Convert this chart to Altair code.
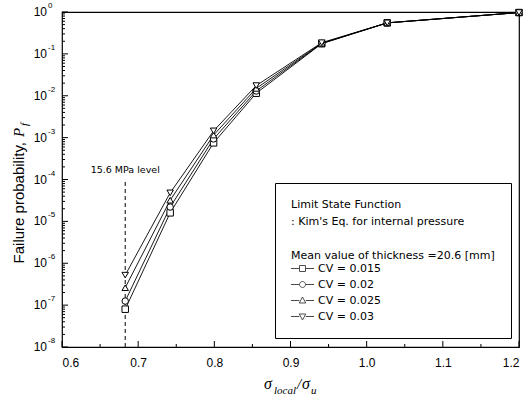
import altair as alt
import pandas as pd

# ---- data ----
x_ratio = [0.683, 0.742, 0.799, 0.855, 0.941, 1.027, 1.2]
cv_labels = ["CV = 0.015", "CV = 0.02", "CV = 0.025", "CV = 0.03"]
pf_cv015 = [8.0e-8, 1.6e-5, 7.5e-4, 1.15e-2, 0.175, 0.55, 0.97]
pf_cv020 = [1.25e-7, 2.2e-5, 9.3e-4, 1.3e-2, 0.178, 0.55, 0.97]
pf_cv025 = [2.6e-7, 3.2e-5, 1.15e-3, 1.5e-2, 0.18, 0.55, 0.97]
pf_cv030 = [5.2e-7, 4.8e-5, 1.45e-3, 1.75e-2, 0.185, 0.55, 0.97]

level_x = [0.683]
level_y_top = [9e-5]
level_label = ["15.6 MPa level"]

x_major = [0.6, 0.7, 0.8, 0.9, 1.0, 1.1, 1.2]
x_minor = [0.65, 0.75, 0.85, 0.95, 1.05, 1.15]
y_exp = [-8, -7, -6, -5, -4, -3, -2, -1, 0]
y_minor_mult = [2, 3, 4, 5, 6, 7, 8, 9]

legend_title = ["Limit State Function", ": Kim's Eq. for internal pressure", "\u2800",
                "Mean value of thickness =20.6 [mm]"]

W, H = 457, 335

rows = []
for lab, vals in zip(cv_labels, [pf_cv015, pf_cv020, pf_cv025, pf_cv030]):
    for xv, yv in zip(x_ratio, vals):
        rows.append({"x": xv, "pf": yv, "series": lab})
df = pd.DataFrame(rows)

xs = alt.Scale(domain=[0.6, 1.2], nice=False, zero=False)
ys = alt.Scale(type="log", domain=[1e-8, 1], nice=False)

xax = alt.Axis(values=x_major, format=".1f", ticks=False, domain=False, grid=False,
               labelFont="Liberation Sans", labelFontSize=12, labelColor="black",
               labelPadding=10, title=None)
yax = alt.Axis(labels=False, ticks=False, domain=False, grid=False, title=None)

base = alt.Chart(df)

lines = base.mark_line(color="black", strokeWidth=0.9).encode(
    x=alt.X("x:Q", scale=xs, axis=xax),
    y=alt.Y("pf:Q", scale=ys, axis=yax),
    detail="series:N",
)

points = base.mark_point(filled=True, fill="white", stroke="black", strokeWidth=1,
                         size=42, opacity=1).encode(
    x=alt.X("x:Q", scale=xs),
    y=alt.Y("pf:Q", scale=ys),
    shape=alt.Shape("series:N", sort=cv_labels,
                    scale=alt.Scale(domain=cv_labels,
                                    range=["square", "circle", "triangle-up", "triangle-down"]),
                    legend=None),
)

# legend symbols: short line - marker - short line
sym_paths = [
    "M-1.1,0L0.6,0M1.8,0L3.5,0M0.6,-0.6L1.8,-0.6L1.8,0.6L0.6,0.6Z",
    "M-1.1,0L0.6,0M1.8,0L3.5,0M1.8,0A0.6,0.6,0,1,1,0.6,0A0.6,0.6,0,1,1,1.8,0Z",
    "M-1.1,0L0.55,0M1.85,0L3.5,0M1.2,-0.7L1.85,0.5L0.55,0.5Z",
    "M-1.1,0L0.55,0M1.85,0L3.5,0M1.2,0.7L1.85,-0.5L0.55,-0.5Z",
]

legend_layer = base.mark_point(filled=False, color="black", clip=True).encode(
    x=alt.value(-200),
    y=alt.value(-200),
    shape=alt.Shape("series:N", sort=cv_labels,
                    scale=alt.Scale(domain=cv_labels, range=sym_paths),
                    legend=alt.Legend(
                        title=legend_title, orient="none", legendX=213, legendY=171,
                        fillColor="white", strokeColor="black", padding=16,
                        titleFont="DejaVu Sans", titleFontSize=11, titleFontWeight="normal",
                        titleColor="black", titleLineHeight=17, titlePadding=2,
                        titleLimit=400, labelLimit=300,
                        labelFont="DejaVu Sans", labelFontSize=11, labelColor="black",
                        labelOffset=16, symbolSize=100, symbolStrokeColor="black",
                        symbolFillColor="white", symbolStrokeWidth=1, rowPadding=4,
                    )),
)

# dashed level line and its label
lvl_df = pd.DataFrame({"x": level_x, "y0": [1e-8], "y1": level_y_top, "label": level_label})
level_rule = alt.Chart(lvl_df).mark_rule(color="black", strokeDash=[4, 3], strokeWidth=1).encode(
    x=alt.X("x:Q", scale=xs), y=alt.Y("y0:Q", scale=ys), y2="y1:Q")
level_text = alt.Chart(lvl_df).mark_text(font="DejaVu Sans", fontSize=9.5, color="black",
                                         align="center", baseline="bottom", dy=-6).encode(
    x=alt.X("x:Q", scale=xs), y=alt.Y("y1:Q", scale=ys), text="label:N")

# ticks (inward)
xmaj_df = pd.DataFrame({"t": x_major})
xmin_df = pd.DataFrame({"t": x_minor})
xmaj_rule = alt.Chart(xmaj_df).mark_rule(color="black", strokeWidth=1).encode(
    x=alt.X("t:Q", scale=xs), y=alt.value(H), y2=alt.value(H - 6))
xmin_rule = alt.Chart(xmin_df).mark_rule(color="black", strokeWidth=1).encode(
    x=alt.X("t:Q", scale=xs), y=alt.value(H), y2=alt.value(H - 3))

ymaj_vals = [10.0 ** e for e in y_exp]
ymin_vals = [m * 10.0 ** e for e in y_exp[:-1] for m in y_minor_mult]
ymaj_df = pd.DataFrame({"t": ymaj_vals,
                        "base": ["10"] * len(y_exp),
                        "exp": [str(e) for e in y_exp]})
ymin_df = pd.DataFrame({"t": ymin_vals})
ymaj_rule = alt.Chart(ymaj_df).mark_rule(color="black", strokeWidth=1).encode(
    y=alt.Y("t:Q", scale=ys), x=alt.value(0), x2=alt.value(6))
ymin_rule = alt.Chart(ymin_df).mark_rule(color="black", strokeWidth=1).encode(
    y=alt.Y("t:Q", scale=ys), x=alt.value(0), x2=alt.value(3))

ylab_base = alt.Chart(ymaj_df).mark_text(font="Liberation Sans", fontSize=12, color="black",
                                         align="right", baseline="middle").encode(
    y=alt.Y("t:Q", scale=ys), x=alt.value(-15), text="base:N")
ylab_exp = alt.Chart(ymaj_df).mark_text(font="Liberation Sans", fontSize=8, color="black",
                                        align="left", baseline="middle", dy=-6).encode(
    y=alt.Y("t:Q", scale=ys), x=alt.value(-14), text="exp:N")

one = alt.Data(values=[{}])

# y title
yt1 = alt.Chart(one).mark_text(text="Failure probability,", font="Liberation Sans", fontSize=15,
                               angle=270, align="right", baseline="alphabetic",
                               color="black").encode(x=alt.value(-38), y=alt.value(130))
yt2 = alt.Chart(one).mark_text(text="P", font="Liberation Serif", fontSize=15, fontStyle="italic",
                               angle=270, align="left", baseline="alphabetic",
                               color="black").encode(x=alt.value(-38), y=alt.value(125))
yt3 = alt.Chart(one).mark_text(text="f", font="Liberation Serif", fontSize=11, fontStyle="italic",
                               angle=270, align="left", baseline="alphabetic",
                               color="black").encode(x=alt.value(-34), y=alt.value(114))

# x title
xt1 = alt.Chart(one).mark_text(text="σ", font="Liberation Serif", fontSize=16, fontStyle="italic",
                               align="left", baseline="alphabetic", color="black").encode(
    x=alt.value(202), y=alt.value(377))
xt2 = alt.Chart(one).mark_text(text="local", font="Liberation Serif", fontSize=11, fontStyle="italic",
                               align="left", baseline="alphabetic", color="black").encode(
    x=alt.value(212), y=alt.value(382))
xt3 = alt.Chart(one).mark_text(text="/", font="Liberation Serif", fontSize=15, fontStyle="italic",
                               align="left", baseline="alphabetic", color="black").encode(
    x=alt.value(235), y=alt.value(377))
xt4 = alt.Chart(one).mark_text(text="σ", font="Liberation Serif", fontSize=16, fontStyle="italic",
                               align="left", baseline="alphabetic", color="black").encode(
    x=alt.value(240), y=alt.value(377))
xt5 = alt.Chart(one).mark_text(text="u", font="Liberation Serif", fontSize=11, fontStyle="italic",
                               align="left", baseline="alphabetic", color="black").encode(
    x=alt.value(249), y=alt.value(382))

chart = alt.layer(
    lines, level_rule, level_text, points, legend_layer,
    xmaj_rule, xmin_rule, ymaj_rule, ymin_rule, ylab_base, ylab_exp,
    yt1, yt2, yt3, xt1, xt2, xt3, xt4, xt5,
).resolve_scale(shape="independent").properties(
    width=W, height=H,
    padding={"left": 62, "top": 12, "right": 9, "bottom": 56},
    autosize=alt.AutoSizeParams(type="none"),
    background="white",
).configure_view(stroke="black", strokeWidth=1.2)

chart.save("out.html", embed_options={"renderer": "svg", "actions": False})
